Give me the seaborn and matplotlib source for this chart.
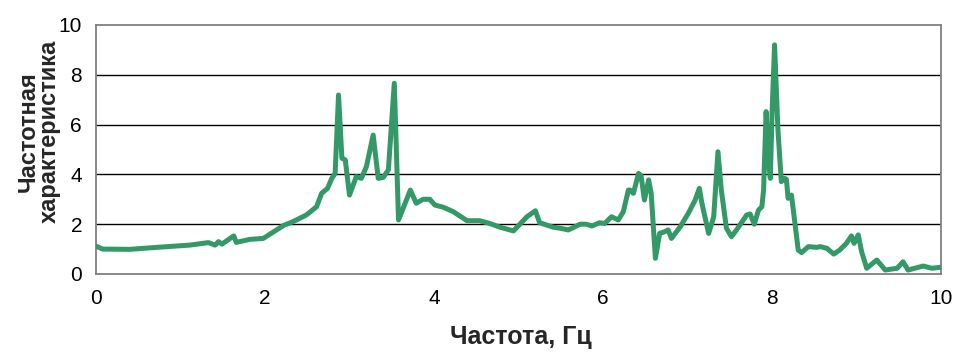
import matplotlib
matplotlib.use("Agg")
import matplotlib.pyplot as plt
import pandas as pd
import seaborn as sns

# Frequency response: frequency (Hz) and magnitude
freq = [0.0, 0.08, 0.4, 0.72, 1.11, 1.33, 1.41, 1.45, 1.49, 1.63, 1.66, 1.82, 1.98,
        2.22, 2.33, 2.49, 2.61, 2.67, 2.74, 2.79, 2.83, 2.87, 2.91, 2.95, 3.0,
        3.08, 3.14, 3.2, 3.28, 3.34, 3.4, 3.46, 3.53, 3.58, 3.72, 3.79, 3.87,
        3.95, 4.01, 4.11, 4.23, 4.39, 4.54, 4.66, 4.78, 4.94, 5.1, 5.2, 5.25,
        5.33, 5.41, 5.49, 5.59, 5.73, 5.8, 5.87, 5.96, 6.02, 6.1, 6.18, 6.24,
        6.3, 6.32, 6.36, 6.42, 6.45, 6.49, 6.54, 6.57, 6.62, 6.67, 6.73, 6.77,
        6.81, 6.91, 7.01, 7.09, 7.14, 7.17, 7.25, 7.31, 7.36, 7.4, 7.46, 7.52,
        7.58, 7.66, 7.7, 7.74, 7.79, 7.84, 7.88, 7.9, 7.93, 7.96, 7.98, 8.0,
        8.03, 8.07, 8.11, 8.15, 8.17, 8.19, 8.23, 8.31, 8.35, 8.43, 8.53, 8.57,
        8.65, 8.73, 8.8, 8.88, 8.94, 8.97, 9.02, 9.06, 9.12, 9.24, 9.34, 9.48,
        9.55, 9.61, 9.79, 9.89, 10.0]
magnitude = [1.12, 1.0, 0.99, 1.07, 1.16, 1.26, 1.16, 1.3, 1.2, 1.53, 1.27, 1.39, 1.43,
             1.95, 2.1, 2.37, 2.7, 3.24, 3.44, 3.84, 4.04, 7.19, 4.65, 4.58, 3.17,
             3.91, 3.84, 4.31, 5.58, 3.84, 3.88, 4.18, 7.66, 2.17, 3.37, 2.84, 3.0,
             3.0, 2.77, 2.68, 2.5, 2.14, 2.14, 2.03, 1.88, 1.73, 2.3, 2.54, 2.06,
             1.97, 1.88, 1.84, 1.77, 2.0, 2.0, 1.93, 2.06, 2.03, 2.3, 2.17, 2.5,
             3.37, 3.37, 3.24, 4.04, 3.95, 2.97, 3.78, 3.24, 0.63, 1.63, 1.7, 1.77,
             1.43, 1.88, 2.44, 2.97, 3.44, 2.84, 1.63, 2.3, 4.91, 3.37, 1.84, 1.5,
             1.77, 2.17, 2.37, 2.41, 2.0, 2.57, 2.7, 3.37, 6.52, 4.44, 3.84, 6.45,
             9.2, 5.78, 3.71, 3.84, 3.8, 3.04, 3.17, 0.96, 0.86, 1.1, 1.07, 1.1,
             1.03, 0.8, 0.96, 1.23, 1.53, 1.23, 1.57, 0.9, 0.23, 0.56, 0.16, 0.23,
             0.49, 0.16, 0.32, 0.23, 0.27]

x_ticks = [0, 2, 4, 6, 8, 10]
y_ticks = [0, 2, 4, 6, 8, 10]
x_label = "Частота, Гц"
y_label = "Частотная\nхарактеристика"

df = pd.DataFrame({"freq": freq, "magnitude": magnitude})

sns.set_style("white")
plt.rcParams["font.family"] = ["Liberation Sans", "DejaVu Sans"]

fig = plt.figure(figsize=(9.58, 3.52), dpi=100)
ax = fig.add_axes([0.1002, 0.2216, 0.8821, 0.7074])

sns.lineplot(data=df, x="freq", y="magnitude", ax=ax, color="#339966",
             linewidth=3.6, solid_joinstyle="round", solid_capstyle="round",
             zorder=3)

ax.set_xlim(0, 10)
ax.set_ylim(0, 10)
ax.set_xticks(x_ticks)
ax.set_yticks(y_ticks)
ax.set_xticklabels([str(t) for t in x_ticks], fontsize=15)
ax.set_yticklabels([str(t) for t in y_ticks], fontsize=15)

for yv in y_ticks[1:-1]:
    ax.axhline(yv, color="black", linewidth=1.0, zorder=1)

for side in ["left", "bottom", "right", "top"]:
    ax.spines[side].set_visible(True)
    ax.spines[side].set_color("#808080")
    ax.spines[side].set_linewidth(1.3)

ax.tick_params(axis="both", direction="out", length=5, width=1.2,
               color="#808080", labelcolor="black")
ax.tick_params(axis="x", pad=6)
ax.tick_params(axis="y", pad=5)

ax.set_xlabel(x_label, fontsize=18, fontweight="bold")
ax.xaxis.set_label_coords(0.503, -0.253)
ax.xaxis.label.set_va("center")

ax.set_ylabel(y_label, fontsize=17, fontweight="bold", linespacing=0.88)
ax.yaxis.set_label_coords(-0.068, 0.572)
ax.yaxis.label.set_va("center")

fig.savefig("out.png", dpi=100)
